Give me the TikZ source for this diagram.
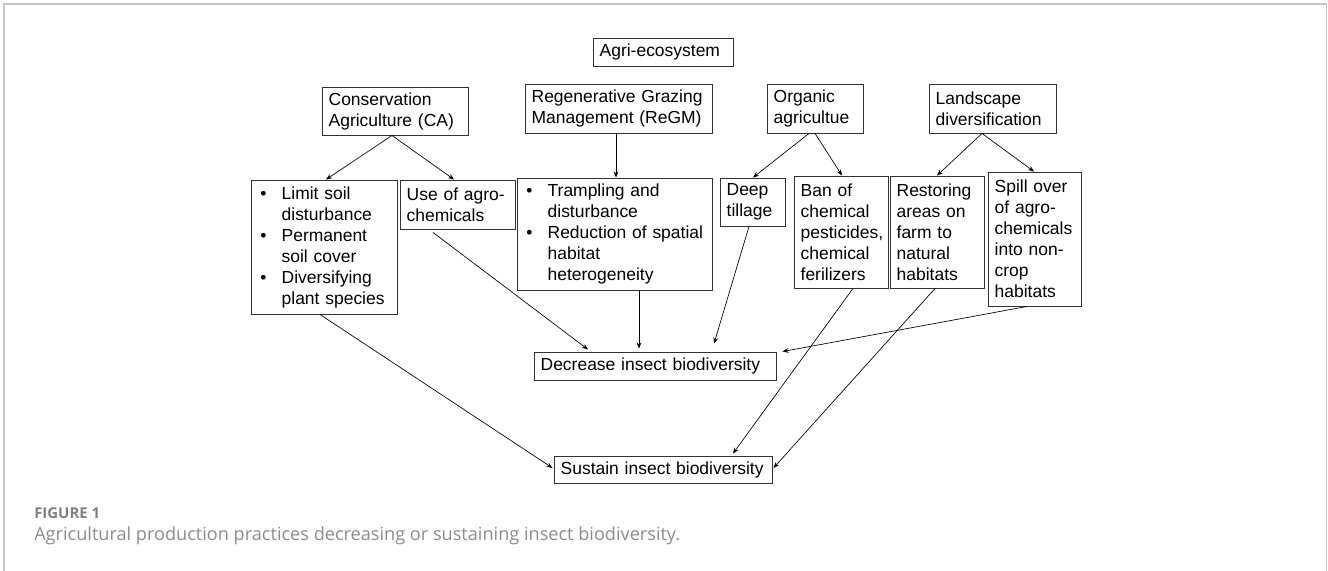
\documentclass[tikz,border=0pt]{standalone}
\usepackage{fontspec}
\setmainfont{Liberation Sans}
\newfontfamily\capfont{Open Sans}
\usetikzlibrary{arrows.meta,calc}
\begin{document}
\begin{tikzpicture}[x=0.75pt,y=-0.75pt,
  bx/.style={draw=black!80, line width=0.7pt, inner xsep=5pt, inner ysep=0pt,
    align=left, font=\fontsize{13.1pt}{15.75pt}\selectfont},
  conn/.style={line width=0.5pt, -{Stealth[length=4.5pt,width=3.5pt]}},
  frame/.style={draw=black!22, line width=1.1pt}]
\useasboundingbox (0,0) rectangle (1328,571);
\draw[frame] (4,571) -- (4,4) -- (1326.5,4) -- (1326.5,571);

\newcommand{\bul}{\makebox[18pt][l]{\hspace{2pt}\textbullet}}
\newcommand{\ind}{\hspace*{18pt}}

\node[bx, minimum width=105pt, minimum height=21pt, text width=95pt] (agri) at (663,52) {Agri-ecosystem};
\node[bx, minimum width=109.5pt, minimum height=36pt, text width=99.5pt] (ca) at (395,111) {Conservation\\Agriculture (CA)};
\node[bx, minimum width=140.25pt, minimum height=36.75pt, text width=130.25pt] (regm) at (618.5,108.5) {Regenerative Grazing\\Management (ReGM)};
\node[bx, minimum width=72pt, minimum height=36.75pt, text width=62pt] (org) at (815,108.5) {Organic\\agricultue};
\node[bx, minimum width=95.25pt, minimum height=36.75pt, text width=85.25pt] (land) at (992.5,108.5) {Landscape\\diversification};

\node[bx, minimum width=109.5pt, minimum height=100.5pt, text width=99.5pt] (limit) at (324,247)
  {\bul Limit soil\\\ind disturbance\\\bul Permanent\\\ind soil cover\\\bul Diversifying\\\ind plant species};
\node[bx, minimum width=86.25pt, minimum height=36.75pt, text width=76.25pt] (use) at (457.5,204.5) {Use of agro-\\chemicals};
\node[bx, minimum width=146.25pt, minimum height=84pt, text width=136.25pt] (tramp) at (614.5,234)
  {\bul Trampling and\\\ind disturbance\\\bul Reduction of spatial\\\ind habitat\\\ind heterogeneity};
\node[bx, minimum width=48.75pt, minimum height=36pt, text width=38.75pt] (deep) at (752.5,202) {Deep\\tillage};
\node[bx, minimum width=70.5pt, minimum height=84pt, text width=60.5pt] (ban) at (841,232) {Ban of\\chemical\\pesticides,\\chemical\\ferilizers};
\node[bx, minimum width=70.5pt, minimum height=84pt, text width=60.5pt] (rest) at (937,232) {Restoring\\areas on\\farm to\\natural\\habitats};
\node[bx, minimum width=69.75pt, minimum height=100.5pt, text width=59.75pt] (spill) at (1034.5,239) {Spill over\\of agro-\\chemicals\\into non-\\crop\\habitats};

\node[bx, minimum width=181.5pt, minimum height=21pt, text width=171.5pt] (dec) at (655,366) {Decrease insect biodiversity};
\node[bx, minimum width=163.5pt, minimum height=20.25pt, text width=153.5pt] (sus) at (663,469.5) {Sustain insect biodiversity};

\draw[conn] ($(ca.south)+(-3,0)$) -- ($(limit.north)+(2,0)$);
\draw[conn] ($(ca.south)+(-3,0)$) -- ($(use.north)+(-3.5,0)$);
\draw[conn] ($(regm.south)+(-2.5,0)$) -- ($(tramp.north)+(1.5,0)$);
\draw[conn] ($(org.south)+(-6,0)$) -- ($(deep.north)+(0.5,0)$);
\draw[conn] (org.south) -- ($(ban.north)+(1,0)$);
\draw[conn] ($(land.south)+(-10.5,0)$) -- (rest.north);
\draw[conn] ($(land.south)+(-10.5,0)$) -- ($(spill.north)+(-0.5,0)$);

\draw[conn] ($(use.south)+(-24.5,3)$) -- ($(dec.north)+(-67,-2)$);
\draw[conn] ($(tramp.south)+(24.5,0)$) -- ($(dec.north)+(-16,-3)$);
\draw[conn] ($(deep.south)+(-3.5,0)$) -- ($(dec.north)+(59,-8)$);
\draw[conn] ($(spill.south)+(-7.5,0)$) -- ($(dec.north east)+(6,0)$);

\draw[conn] ($(limit.south)+(-4,0)$) -- ($(sus.west)+(-1,-1.5)$);
\draw[conn] ($(ban.south)+(12,0)$) -- ($(sus.north)+(70,-2)$);
\draw[conn] ($(rest.south)+(-2,0)$) -- ($(sus.east)+(1,-1.5)$);

\node[anchor=base west, inner sep=0pt, font=\capfont\bfseries\fontsize{11.2pt}{13pt}\selectfont, text=black!50] (figlabel) at (34,518) {FIGURE 1};
\node[anchor=base west, inner sep=0pt, font=\capfont\fontsize{13.6pt}{16pt}\selectfont, text=black!45] (caption) at (34,540) {Agricultural production practices decreasing or sustaining insect biodiversity.};
\end{tikzpicture}
\end{document}
